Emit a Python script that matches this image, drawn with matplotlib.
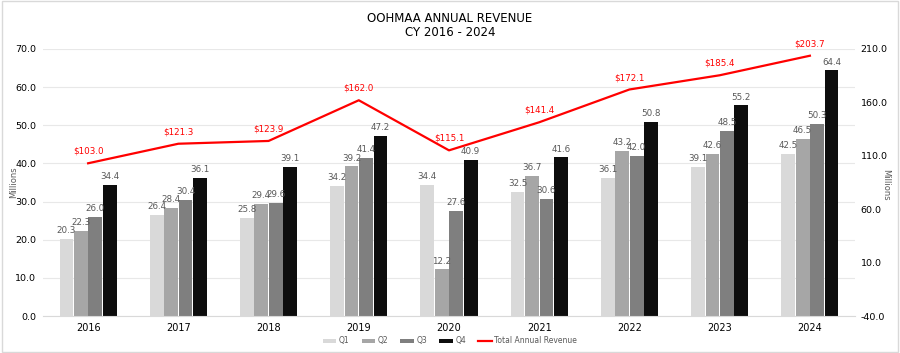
import numpy as np
import matplotlib.pyplot as plt
from matplotlib.patches import Rectangle

years = ['2016', '2017', '2018', '2019', '2020', '2021', '2022', '2023', '2024']
q1 = [20.3, 26.4, 25.8, 34.2, 34.4, 32.5, 36.1, 39.1, 42.5]
q2 = [22.3, 28.4, 29.4, 39.2, 12.2, 36.7, 43.2, 42.6, 46.5]
q3 = [26.0, 30.4, 29.6, 41.4, 27.6, 30.6, 42.0, 48.5, 50.3]
q4 = [34.4, 36.1, 39.1, 47.2, 40.9, 41.6, 50.8, 55.2, 64.4]
total = [103.0, 121.3, 123.9, 162.0, 115.1, 141.4, 172.1, 185.4, 203.7]

quarters = ['Q1', 'Q2', 'Q3', 'Q4']
colors = ['#d9d9d9', '#a6a6a6', '#7f7f7f', '#0d0d0d']

fig = plt.figure(figsize=(9, 3.53), dpi=100)
fig.patches.append(Rectangle((0.002, 0.003), 0.996, 0.994, transform=fig.transFigure,
                             fill=False, edgecolor='#d9d9d9', linewidth=1))
ax = fig.add_axes([43 / 900, 1 - 316 / 353, 812 / 900, 267 / 353])
ax2 = ax.twinx()

x = np.arange(len(years))
w = 0.16
for i, (vals, c) in enumerate(zip([q1, q2, q3, q4], colors)):
    pos = x + (i - 1.5) * w
    ax.bar(pos, vals, width=w * 0.95, color=c, label=quarters[i], zorder=2)
    for px, v in zip(pos, vals):
        ax.text(px, v + 1.0, f'{v:.1f}', ha='center', va='bottom', fontsize=6.3, color='#595959')

ax2.plot(x, total, color='#ff0000', linewidth=1.6, label='Total Annual Revenue', zorder=3)
for px, v in zip(x, total):
    ax2.text(px, v + 7, f'${v:.1f}', ha='center', va='bottom', fontsize=6.3, color='#ff0000')

ax.set_xlim(-0.5, len(years) - 0.5)
ax.set_ylim(0, 70)
ax.set_yticks(np.arange(0, 71, 10))
ax.set_yticklabels([f'{t:.1f}' for t in np.arange(0, 71, 10)])
ax2.set_ylim(-40, 210)
ax2.set_yticks(np.arange(-40, 211, 50))
ax2.set_yticklabels([f'{t:.1f}' for t in np.arange(-40, 211, 50)])
ax.set_xticks(x)
ax.set_xticklabels(years)

ax.grid(axis='y', color='#e8e8e8', linewidth=0.8, zorder=0)
for a in (ax, ax2):
    for s in a.spines.values():
        s.set_visible(False)
    a.tick_params(length=0, labelsize=6.8, colors='#000000')
ax.spines['bottom'].set_visible(True)
ax.spines['bottom'].set_color('#d9d9d9')
ax.tick_params(axis='x', pad=5, labelsize=7)
ax.tick_params(axis='y', pad=5)
ax2.tick_params(axis='y', pad=4)

# axis titles placed on the figure so they stay inside the frame
fig.text(14 / 900, 1 - 182 / 353, 'Millions', rotation=90, ha='center', va='center',
         fontsize=6, color='#595959')
fig.text(886 / 900, 1 - 185 / 353, 'Millions', rotation=270, ha='center', va='center',
         fontsize=6, color='#595959')

fig.text(0.5, 0.965, 'OOHMAA ANNUAL REVENUE\nCY 2016 - 2024', ha='center', va='top',
         fontsize=8.5, linespacing=1.1)

h1, l1 = ax.get_legend_handles_labels()
h2, l2 = ax2.get_legend_handles_labels()
fig.legend(h1 + h2, l1 + l2, loc='center', bbox_to_anchor=(0.5, 0.034), ncol=5,
           frameon=False, fontsize=5.5, handlelength=1.8, handleheight=0.5,
           columnspacing=1.6, handletextpad=0.3, labelcolor='#595959')

fig.savefig('out.png', dpi=100)
